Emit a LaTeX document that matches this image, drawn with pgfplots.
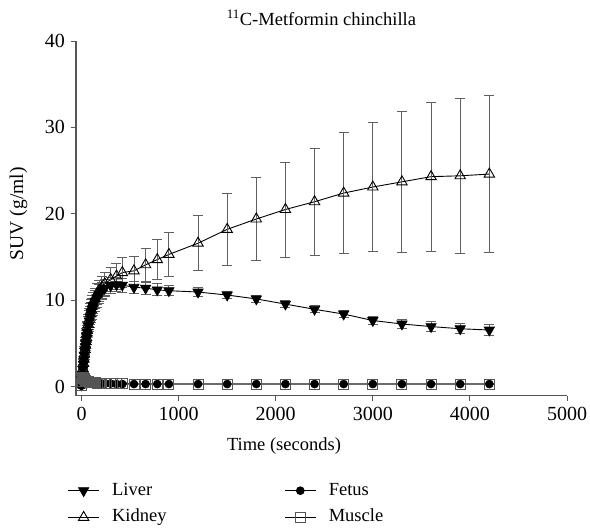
\documentclass[border=0pt]{standalone}
\usepackage{pgfplots}
\pgfplotsset{compat=1.18}
\usepackage{pgfplotstable}
\usepackage{fontspec}
\setmainfont{Liberation Serif}

% time (s), mean SUV, error
\pgfplotstableread{
t y e
0 0.2 0.1
5 0.8 0.3
10 1.4 0.4
15 2.0 0.5
20 2.6 0.6
25 3.1 0.7
30 3.6 0.8
35 4.1 0.9
40 4.6 0.9
45 5.0 1.0
50 5.5 1.0
55 5.9 1.0
60 6.3 1.1
70 7.0 1.1
80 7.6 1.2
90 8.1 1.2
100 8.6 1.2
110 9.0 1.2
120 9.4 1.2
140 9.9 1.2
160 10.3 1.1
180 10.7 1.1
210 11.1 1.0
240 11.4 1.0
300 11.7 0.9
360 11.8 0.8
420 11.75 0.8
540 11.5 0.7
660 11.4 0.7
780 11.2 0.7
900 11.1 0.6
1200 10.95 0.55
1500 10.6 0.45
1800 10.15 0.4
2100 9.55 0.4
2400 8.95 0.4
2700 8.4 0.4
3000 7.65 0.45
3300 7.25 0.5
3600 6.95 0.55
3900 6.7 0.6
4200 6.55 0.65
}\liver

\pgfplotstableread{
t y e
0 0.2 0.1
5 0.8 0.3
10 1.5 0.4
15 2.1 0.5
20 2.7 0.6
25 3.2 0.7
30 3.8 0.8
35 4.3 0.9
40 4.8 0.9
45 5.2 1.0
50 5.7 1.0
55 6.1 1.0
60 6.5 1.1
70 7.2 1.1
80 7.8 1.2
90 8.4 1.2
100 8.9 1.2
110 9.3 1.2
120 9.7 1.2
140 10.2 1.2
160 10.7 1.2
180 11.1 1.2
210 11.5 1.3
240 11.9 1.3
300 12.4 1.4
360 12.8 1.5
420 13.2 1.7
540 13.4 1.7
660 14.1 1.9
780 14.7 2.3
900 15.3 2.6
1200 16.6 3.2
1500 18.2 4.2
1800 19.4 4.8
2100 20.5 5.5
2400 21.4 6.2
2700 22.4 7.0
3000 23.1 7.5
3300 23.7 8.2
3600 24.3 8.6
3900 24.4 9.0
4200 24.6 9.1
}\kidney

\pgfplotstableread{
t y e
0 0.1 0.05
5 0.9 0.3
10 1.3 0.4
15 1.2 0.4
20 1.0 0.3
25 0.9 0.3
30 0.8 0.3
35 0.75 0.2
40 0.7 0.2
45 0.65 0.2
50 0.6 0.2
55 0.6 0.2
60 0.55 0.2
70 0.5 0.2
80 0.5 0.15
90 0.5 0.15
100 0.45 0.15
110 0.45 0.15
120 0.45 0.15
140 0.4 0.1
160 0.4 0.1
180 0.4 0.1
210 0.35 0.1
240 0.35 0.1
300 0.35 0.1
360 0.3 0.1
420 0.3 0.1
540 0.3 0.1
660 0.3 0.1
780 0.3 0.1
900 0.3 0.1
1200 0.3 0.05
1500 0.3 0.05
1800 0.3 0.05
2100 0.3 0.05
2400 0.3 0.05
2700 0.3 0.05
3000 0.3 0.05
3300 0.3 0.05
3600 0.3 0.05
3900 0.3 0.05
4200 0.3 0.05
}\fetus

\pgfplotstableread{
t y e
0 0.1 0.05
5 0.6 0.2
10 1.0 0.3
15 1.1 0.3
20 1.0 0.3
25 0.9 0.3
30 0.85 0.2
35 0.8 0.2
40 0.75 0.2
45 0.7 0.2
50 0.65 0.2
55 0.6 0.2
60 0.6 0.2
70 0.55 0.15
80 0.5 0.15
90 0.5 0.15
100 0.5 0.15
110 0.45 0.1
120 0.45 0.1
140 0.45 0.1
160 0.4 0.1
180 0.4 0.1
210 0.4 0.1
240 0.35 0.1
300 0.35 0.1
360 0.35 0.1
420 0.35 0.1
540 0.3 0.1
660 0.3 0.1
780 0.3 0.1
900 0.3 0.1
1200 0.3 0.05
1500 0.3 0.05
1800 0.3 0.05
2100 0.3 0.05
2400 0.3 0.05
2700 0.3 0.05
3000 0.3 0.05
3300 0.3 0.05
3600 0.3 0.05
3900 0.3 0.05
4200 0.3 0.05
}\muscle

\definecolor{axgray}{RGB}{85,85,85}
\definecolor{errgray}{RGB}{95,95,95}

\begin{document}
\begin{tikzpicture}
\begin{axis}[
    scale only axis,
    width=491pt, height=354.7pt,
    xmin=-57, xmax=5000,
    ymin=-1.05, ymax=40,
    clip=false,
    axis x line=bottom, axis y line=left,
    axis line style={-, axgray, line width=1.1pt},
    tick align=outside,
    major tick length=5pt,
    tick style={axgray, line width=1pt},
    xtick={0,1000,2000,3000,4000,5000},
    ytick={0,10,20,30,40},
    /pgf/number format/assume math mode=true,
    /pgf/number format/1000 sep={},
    ticklabel style={font=\fontsize{20}{24}\selectfont},
    yticklabel style={xshift=-2.5pt},
    xticklabel style={yshift=-2.5pt},
    title={\textsuperscript{11}C-Metformin chinchilla},
    title style={at={(axis description cs:0.5,1)}, anchor=base, yshift=10pt,
                 font=\fontsize{18.5}{22}\selectfont},
    xlabel={Time (seconds)},
    xlabel style={at={(axis description cs:0.4236,0)}, anchor=base, yshift=-54.8pt,
                  font=\fontsize{18.5}{22}\selectfont},
    ylabel={SUV (g/ml)},
    ylabel style={at={(axis description cs:-0.1171,0.513)}, anchor=center,
                  font=\fontsize{19.5}{22}\selectfont},
    legend columns=2,
    legend cell align=left,
    legend style={draw=none, fill=none, inner sep=0pt,
                  at={(axis description cs:-0.0169,-0.2433)}, anchor=north west,
                  font=\fontsize{18.5}{22}\selectfont,
                  nodes={inner sep=0pt, text height=13pt, text depth=4pt},
                  row sep=9.7pt,
                  /tikz/every odd column/.append style={column sep=12.7pt},
                  /tikz/every even column/.append style={column sep=118pt}},
    legend image code/.code={\draw[mark repeat=2, mark phase=2, #1]
        plot coordinates {(0pt,0pt) (15.3pt,0pt) (30.6pt,0pt)};},
    every axis plot/.append style={line width=0.9pt, black},
    error bars/y dir=both,
    error bars/y explicit,
    error bars/error bar style={errgray, line width=0.9pt, solid},
    error bars/error mark options={rotate=90, mark size=5pt, errgray, line width=0.9pt},
]
\addplot[mark=triangle*, mark size=6pt, mark options={rotate=180, fill=black, solid, line width=0.6pt}]
    table[x=t, y=y, y error=e] {\liver};
\addlegendentry{Liver}
\addplot[mark=*, mark size=4pt, mark options={fill=black, solid, line width=0.6pt}]
    table[x=t, y=y, y error=e] {\fetus};
\addlegendentry{Fetus}
\addplot[mark=triangle, mark size=6pt, mark options={fill=white, solid, line width=0.9pt}]
    table[x=t, y=y, y error=e] {\kidney};
\addlegendentry{Kidney}
\addplot[mark=square, mark size=5pt, mark options={fill=none, draw=axgray, solid, line width=0.9pt}]
    table[x=t, y=y, y error=e] {\muscle};
\addlegendentry{Muscle}
\end{axis}
\pgfresetboundingbox
\path (current axis.south west) ++(-76pt,-135.3pt) rectangle ++(590pt,531pt);
\end{tikzpicture}
\end{document}
